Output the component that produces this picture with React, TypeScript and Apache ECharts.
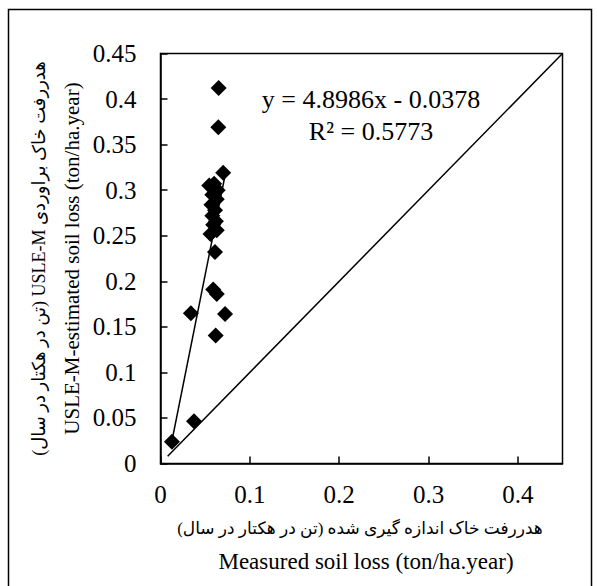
import React, { useEffect, useRef } from "react";
import * as echarts from "echarts";

// Measured soil loss (x) vs USLE-M estimated soil loss (y), ton/ha.year
const measured = [
  0.0651, 0.0647, 0.0702, 0.0545, 0.06, 0.064, 0.058, 0.063, 0.057, 0.061, 0.058, 0.062,
  0.059, 0.063, 0.056, 0.061, 0.059, 0.063, 0.034, 0.0723, 0.0618, 0.0375, 0.0128,
];
const estimated = [
  0.412, 0.369, 0.319, 0.305, 0.307, 0.3, 0.295, 0.29, 0.284, 0.278, 0.272, 0.266,
  0.262, 0.256, 0.252, 0.232, 0.191, 0.186, 0.165, 0.164, 0.1406, 0.0465, 0.0239,
];

// Linear fit shown on the chart
const trendSlope = 4.8986;
const trendIntercept = -0.0378;
const equationText = "y = 4.8986x - 0.0378";
const r2Text = "R² = 0.5773";

// 1:1 line ends
const oneToOne = [0.008, 0.45];

const xAxisMax = 0.45;
const xAxisInterval = 0.1;
const yAxisMax = 0.45;
const yAxisInterval = 0.05;

const xTitleFa = "هدررفت خاک اندازه گیری شده (تن در هکتار در سال)";
const xTitleEn = "Measured soil loss (ton/ha.year)";
const yTitleFa = "هدررفت خاک براوردی USLE-M (تن در هکتار در سال)";
const yTitleEn = "USLE-M-estimated soil loss (ton/ha.year)";

const SERIF = "'Liberation Serif', 'Times New Roman', serif";
const FA = "'Liberation Serif', 'DejaVu Sans', 'Noto Sans', serif";

export default function App() {
  const ref = useRef<HTMLDivElement>(null);

  useEffect(() => {
    document.body.style.margin = "0";
    if (!ref.current) return;
    const chart = echarts.init(ref.current, undefined, { renderer: "svg" });

    const points = measured.map((x, i) => [x, estimated[i]]);
    const xMin = Math.min(...measured);
    const xMax = Math.max(...measured);
    const trend = [
      [xMin, trendSlope * xMin + trendIntercept],
      [xMax, trendSlope * xMax + trendIntercept],
    ];

    const left = 160.5;
    const top = 53.5;
    const right = 562.5;
    const bottom = 463.5;
    const cy = (top + bottom) / 2;

    chart.setOption({
      animation: false,
      backgroundColor: "#ffffff",
      grid: {
        left,
        top,
        width: right - left,
        height: bottom - top,
        show: true,
        borderColor: "#000",
        borderWidth: 1.5,
        containLabel: false,
      },
      xAxis: {
        type: "value",
        min: 0,
        max: xAxisMax,
        interval: xAxisInterval,
        splitLine: { show: false },
        axisLine: { lineStyle: { color: "#000", width: 1.5 } },
        axisTick: { inside: true, length: 7, lineStyle: { color: "#000", width: 1.5 } },
        axisLabel: {
          showMaxLabel: false,
          margin: 18,
          color: "#000",
          fontFamily: SERIF,
          fontSize: 25,
        },
      },
      yAxis: {
        type: "value",
        min: 0,
        max: yAxisMax,
        interval: yAxisInterval,
        splitLine: { show: false },
        axisLine: { lineStyle: { color: "#000", width: 1.5 } },
        axisTick: { inside: true, length: 7, lineStyle: { color: "#000", width: 1.5 } },
        axisLabel: {
          margin: 24,
          color: "#000",
          fontFamily: SERIF,
          fontSize: 25,
        },
      },
      series: [
        {
          type: "line",
          data: [
            [oneToOne[0], oneToOne[0]],
            [oneToOne[1], oneToOne[1]],
          ],
          showSymbol: false,
          symbol: "none",
          lineStyle: { color: "#000", width: 1.5 },
          z: 2,
        },
        {
          type: "line",
          data: trend,
          showSymbol: false,
          symbol: "none",
          lineStyle: { color: "#000", width: 1.5 },
          z: 2,
        },
        {
          type: "scatter",
          data: points,
          symbol: "diamond",
          symbolSize: 16,
          itemStyle: { color: "#000", opacity: 1 },
          z: 3,
        },
      ],
      graphic: [
        {
          type: "rect",
          shape: { x: 8.5, y: 9.5, width: 583, height: 620 },
          style: { fill: "none", stroke: "#000", lineWidth: 1.5 },
          silent: true,
        },
        {
          type: "text",
          x: 371,
          y: 99,
          style: {
            text: equationText,
            font: `26px ${SERIF}`,
            fill: "#000",
            textAlign: "center",
            textVerticalAlign: "middle",
          },
        },
        {
          type: "text",
          x: 371,
          y: 131,
          style: {
            text: r2Text,
            font: `26px ${SERIF}`,
            fill: "#000",
            textAlign: "center",
            textVerticalAlign: "middle",
          },
        },
        {
          type: "text",
          x: 360,
          y: 528,
          style: {
            text: "\u202B" + xTitleFa + "\u202C",
            font: `17px ${FA}`,
            fill: "#000",
            textAlign: "center",
            textVerticalAlign: "middle",
          },
        },
        {
          type: "text",
          x: 366,
          y: 561,
          style: {
            text: xTitleEn,
            font: `23px ${SERIF}`,
            fill: "#000",
            textAlign: "center",
            textVerticalAlign: "middle",
          },
        },
        {
          type: "text",
          x: 39,
          y: cy,
          rotation: Math.PI / 2,
          style: {
            text: "\u202B" + yTitleFa + "\u202C",
            font: `18px ${FA}`,
            fill: "#000",
            textAlign: "center",
            textVerticalAlign: "middle",
          },
        },
        {
          type: "text",
          x: 72,
          y: cy,
          rotation: Math.PI / 2,
          style: {
            text: yTitleEn,
            font: `21px ${SERIF}`,
            fill: "#000",
            textAlign: "center",
            textVerticalAlign: "middle",
          },
        },
      ],
    });

    return () => chart.dispose();
  }, []);

  return <div ref={ref} style={{ width: 597, height: 586 }} />;
}
